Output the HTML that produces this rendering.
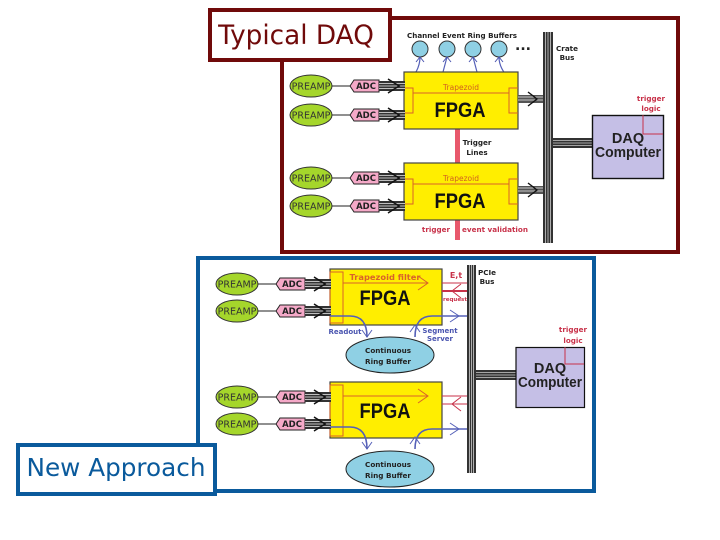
<!DOCTYPE html>
<html><head><meta charset="utf-8"><style>
html,body{margin:0;padding:0;background:#fff;width:720px;height:540px;overflow:hidden}
svg{display:block;filter:blur(.35px)}
text{font-family:"DejaVu Sans","Liberation Sans",sans-serif}
.p{font-size:9.5px;fill:#333;text-anchor:middle}
.a{font-size:8.5px;font-weight:bold;fill:#222;text-anchor:middle}
.f{font-family:"Liberation Sans",sans-serif;font-size:21px;font-weight:bold;fill:#111;text-anchor:middle}
.s{font-size:7.2px;font-weight:bold;text-anchor:middle;fill:#222}
.r{font-size:7.2px;font-weight:bold;text-anchor:middle;fill:#c8324a}
.u{font-size:7px;font-weight:bold;text-anchor:middle;fill:#4a55b0}
.d{font-family:"Liberation Sans",sans-serif;font-size:14.5px;font-weight:bold;fill:#222;text-anchor:middle}
</style></head><body>
<svg width="720" height="540" viewBox="0 0 720 540" xmlns="http://www.w3.org/2000/svg">
<defs>
<g id="in">
<ellipse cx="0" cy="0" rx="21" ry="11" fill="#a5d62b" stroke="#333" stroke-width="1"/>
<text class="p" x="0" y="3.5">PREAMP</text>
<path d="M21 0H39" stroke="#222" stroke-width="1"/>
<path d="M39 0L43-6H68V6H43Z" fill="#f5a9c8" stroke="#222" stroke-width="1"/>
<text class="a" x="55" y="3">ADC</text>
<rect x="68" y="-5" width="26" height="10" fill="#333"/>
<path d="M68-2.5H94M68 0H94M68 2.5H94" stroke="#eee" stroke-width=".8"/>
<path d="M77-7L88 0L77 7" fill="none" stroke="#111" stroke-width="1.5"/>
</g>
<g id="out"><rect x="0" y="-4" width="26" height="8" fill="#555"/><path d="M0-2H26M0 1H26" stroke="#eee" stroke-width=".8"/><path d="M10-7L19 0L10 7" fill="none" stroke="#111" stroke-width="1.4"/></g>
<g id="fpga1">
<rect x="0" y="0" width="114" height="57" fill="#ffee00" stroke="#444" stroke-width="1.2"/>
<path d="M0 16H9V41H0M114 16H105V41H114M9 21H105" fill="none" stroke="#d9622a" stroke-width="1"/>
<text class="f" x="56" y="45" textLength="51" lengthAdjust="spacingAndGlyphs">FPGA</text>
<text x="57" y="18" font-size="7.5" fill="#d06020" text-anchor="middle">Trapezoid</text>
</g>
<g id="fpga2">
<rect x="0" y="0" width="112" height="56" fill="#ffee00" stroke="#444" stroke-width="1.2"/>
<rect x="0" y="3" width="13" height="51" fill="none" stroke="#d9622a" stroke-width="1"/>
<path d="M13 14H98M88 7L98 14L88 21" fill="none" stroke="#d9622a" stroke-width="1"/>
<text class="f" x="55" y="36" textLength="51" lengthAdjust="spacingAndGlyphs">FPGA</text>
</g>
<g id="ring">
<ellipse cx="0" cy="0" rx="44" ry="18" fill="#8fd0e4" stroke="#222" stroke-width="1"/>
<text class="s" x="-2" y="-2" textLength="46" lengthAdjust="spacingAndGlyphs">Continuous</text>
<text class="s" x="-2" y="9" textLength="46" lengthAdjust="spacingAndGlyphs">Ring Buffer</text>
</g>
</defs>

<!-- Typical DAQ -->
<rect x="282" y="18" width="396" height="234" fill="#fff" stroke="#700a0a" stroke-width="4"/>
<rect x="210" y="10" width="180" height="50" fill="#fff" stroke="#700a0a" stroke-width="4"/>
<text x="296" y="44" font-size="26.300" fill="#700a0a" text-anchor="middle">Typical DAQ</text>

<text class="s" x="462" y="38" textLength="110" lengthAdjust="spacingAndGlyphs">Channel Event Ring Buffers</text>
<text x="523" y="50" font-size="14" font-weight="bold" fill="#222" text-anchor="middle">...</text>
<g fill="#8fd0e4" stroke="#333" stroke-width="1">
<circle cx="420" cy="49" r="8"/><circle cx="447" cy="49" r="8"/><circle cx="473" cy="49" r="8"/><circle cx="499" cy="49" r="8"/>
</g>
<path d="M405 85Q420 72 420 57M443 72L447 57M477 72L473 57M517 85Q499 72 499 57" fill="none" stroke="#5560b8" stroke-width="1.2"/>
<path d="M416 62L420 57L424 62M443 62L447 57L451 62M469 62L473 57L477 62M495 62L499 57L503 62" fill="none" stroke="#4a55b0" stroke-width="1"/>

<rect x="455" y="129" width="5" height="111" fill="#e8586c"/>
<use href="#fpga1" x="404" y="72"/>
<use href="#fpga1" x="404" y="163"/>
<use href="#in" x="311" y="86"/>
<use href="#in" x="311" y="115"/>
<use href="#in" x="311" y="178"/>
<use href="#in" x="311" y="206"/>
<use href="#out" x="518" y="99"/>
<use href="#out" x="518" y="190"/>
<rect x="543" y="32" width="10" height="211" fill="#333"/>
<path d="M545.500 32V243M548 32V243M550.500 32V243" stroke="#ccc" stroke-width=".8"/>
<rect x="553" y="138" width="39" height="10" fill="#333"/>
<path d="M553 140.500H592M553 143H592M553 145.500H592" stroke="#ccc" stroke-width=".8"/>
<rect x="592.500" y="115.500" width="71" height="63" fill="#c5bfe6" stroke="#111" stroke-width="1.4"/>
<path d="M643 115V134H663" fill="none" stroke="#c8324a" stroke-width="1"/>
<text class="d" x="628" y="143">DAQ</text>
<text class="d" x="628" y="157" textLength="66" lengthAdjust="spacingAndGlyphs">Computer</text>
<text class="s" x="567" y="51">Crate</text>
<text class="s" x="567" y="60">Bus</text>
<text class="s" x="477" y="145">Trigger</text>
<text class="s" x="477" y="155">Lines</text>
<text class="r" x="436" y="232">trigger</text>
<text class="r" x="495" y="232">event validation</text>
<text class="r" x="651" y="101">trigger</text>
<text class="r" x="651" y="111">logic</text>

<!-- New approach -->
<rect x="198" y="258" width="396" height="233" fill="#fff" stroke="#0a5a9c" stroke-width="4"/>
<rect x="18" y="445" width="197" height="49" fill="#fff" stroke="#0a5a9c" stroke-width="4"/>
<text x="116" y="476" font-size="24.700" fill="#0a5a9c" text-anchor="middle">New Approach</text>

<use href="#ring" x="390" y="355"/>
<use href="#ring" x="390" y="469"/>
<use href="#fpga2" x="330" y="269"/>
<use href="#fpga2" x="330" y="382"/>
<text x="385" y="280" font-size="7.500" font-weight="bold" fill="#d9622a" text-anchor="middle" textLength="71" lengthAdjust="spacingAndGlyphs">Trapezoid filter</text>
<use href="#in" x="237" y="284"/>
<use href="#in" x="237" y="311"/>
<use href="#in" x="237" y="397"/>
<use href="#in" x="237" y="424"/>
<g fill="none" stroke="#5560b8" stroke-width="1.6">
<path d="M330 316H350Q367 316 367 337"/><path d="M415 337Q415 316 432 316H467"/>
<path d="M330 427H350Q367 427 367 449"/><path d="M415 449Q415 429 432 429H467"/>
<path d="M362 330L367 337L372 330M410 332L415 325L420 332M362 442L367 449L372 442M410 444L415 437L420 444M450 310L459 316L450 322M450 423L459 429L450 435" stroke-width="1"/>
</g>
<g fill="none" stroke="#c8324a">
<path d="M442 283H467" stroke-width="1"/><path d="M442 291H467" stroke-width="2"/>
<path d="M461 284L452 291L461 298" stroke-width="1"/>
<path d="M442 396H467M442 404H467M461 397L452 404L461 411" stroke-width="1"/>
</g>
<text class="r" x="456" y="278" style="font-size:8px">E,t</text>
<text class="r" x="455" y="301" style="font-size:5.500px">request</text>
<text class="u" x="345" y="334">Readout</text>
<text class="u" x="440" y="333">Segment</text>
<text class="u" x="440" y="341">Server</text>
<rect x="467" y="265" width="9" height="208" fill="#333"/>
<path d="M469.500 265V473M471.500 265V473M473.500 265V473" stroke="#ccc" stroke-width=".8"/>
<rect x="476" y="370" width="40" height="10" fill="#333"/>
<path d="M476 372.500H516M476 375H516M476 377.500H516" stroke="#ccc" stroke-width=".8"/>
<rect x="516" y="347.500" width="68.500" height="60" fill="#c5bfe6" stroke="#111" stroke-width="1.200"/>
<path d="M565 347V364H584" fill="none" stroke="#c8324a" stroke-width="1"/>
<text class="d" x="550" y="373">DAQ</text>
<text class="d" x="550" y="387" textLength="64" lengthAdjust="spacingAndGlyphs">Computer</text>
<text class="s" x="487" y="275">PCIe</text>
<text class="s" x="487" y="284">Bus</text>
<text class="r" x="573" y="332">trigger</text>
<text class="r" x="573" y="343">logic</text>
</svg>
</body></html>
